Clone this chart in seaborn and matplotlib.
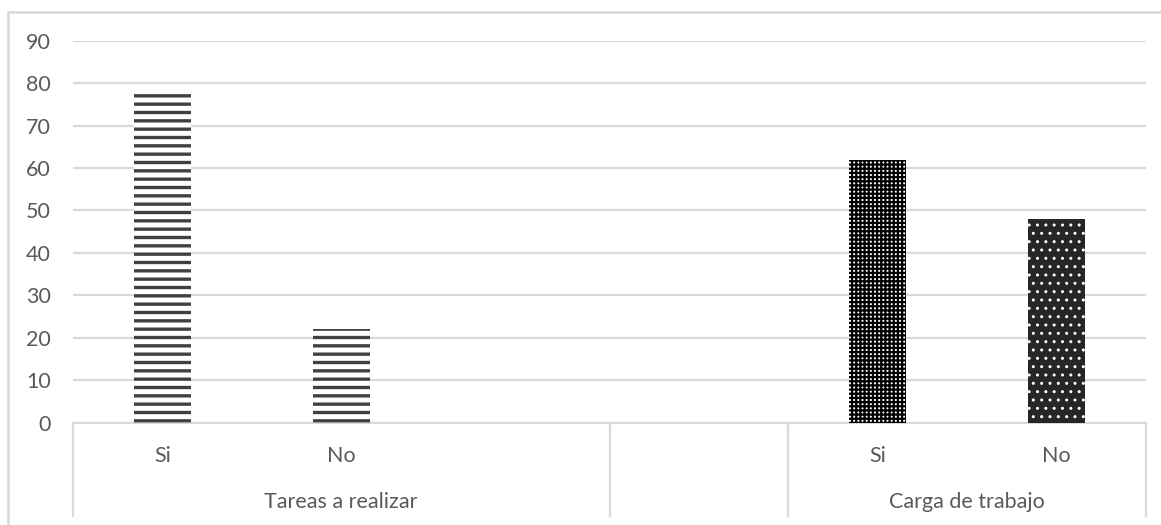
import matplotlib
matplotlib.use("Agg")
import matplotlib.pyplot as plt
from matplotlib.lines import Line2D
import seaborn as sns
import pandas as pd

# Data: two survey questions, each answered Si / No
groups = ["Tareas a realizar", "", "Carga de trabajo"]
slot_group = ["Tareas a realizar", "Tareas a realizar", "Tareas a realizar",
              "", "Carga de trabajo", "Carga de trabajo"]
slot_labels = ["Si", "No", "", "", "Si", "No"]
slot_keys = ["T_si", "T_no", "T_blank", "gap", "C_si", "C_no"]
value_keys = ["T_si", "T_no", "C_si", "C_no"]
values = [78, 22, 62, 48]
y_ticks = [0, 10, 20, 30, 40, 50, 60, 70, 80, 90]

df = pd.DataFrame({"key": value_keys, "value": values})

sns.set_theme(style="white")
plt.rcParams["font.family"] = ["Lato", "DejaVu Sans"]

W, H = 1161, 525
fig = plt.figure(figsize=(W / 100, H / 100), dpi=100)
left_px, right_px, top_px, bottom_px = 73, 1146, 40.7, 422.7
ax = fig.add_axes([left_px / W, (H - bottom_px) / H,
                   (right_px - left_px) / W, (bottom_px - top_px) / H])

sns.barplot(data=df, x="key", y="value", order=slot_keys, width=0.32,
            color="white", ax=ax, zorder=3)

# Fill patterns per bar
styles = {
    "T_si": dict(face="white", hatch="--", hcolor="#404040", hlw=2.4),
    "T_no": dict(face="white", hatch="--", hcolor="#404040", hlw=2.4),
    "C_si": dict(face="white", hatch="++++", hcolor="#000000", hlw=1.6),
    "C_no": dict(face="#262626", hatch="..", hcolor="white", hlw=1.0),
}
for p in ax.patches:
    idx = int(round(p.get_x() + p.get_width() / 2))
    st = styles[slot_keys[idx]]
    p.set_facecolor(st["face"])
    p.set_edgecolor(st["hcolor"])
    p.set_hatch(st["hatch"])
    p.set_linewidth(0)
    if hasattr(p, "set_hatch_linewidth"):
        p.set_hatch_linewidth(st["hlw"])

grid_c = "#d9d9d9"
text_c = "#595959"
fs = 15.5

ax.set_ylim(0, 90)
ax.set_xlim(-0.5, len(slot_keys) - 0.5)
ax.set_yticks(y_ticks)
ax.yaxis.grid(True, color=grid_c, linewidth=1.6, zorder=0)
ax.set_axisbelow(True)
for s in ["left", "right", "top"]:
    ax.spines[s].set_visible(False)
ax.spines["bottom"].set_color(grid_c)
ax.spines["bottom"].set_linewidth(1.6)
ax.tick_params(axis="y", length=0, pad=16, labelsize=fs, labelcolor=text_c)
ax.set_xticks([])
ax.set_xlabel("")
ax.set_ylabel("")

# Two-level category axis
xt = ax.get_xaxis_transform()
for i, lab in enumerate(slot_labels):
    if lab:
        ax.text(i, -0.087, lab, transform=xt, ha="center", va="center",
                fontsize=fs, color=text_c, clip_on=False)
for g in groups:
    idxs = [i for i, sg in enumerate(slot_group) if sg == g]
    if g:
        ax.text(sum(idxs) / len(idxs), -0.207, g, transform=xt, ha="center",
                va="center", fontsize=fs, color=text_c, clip_on=False)
bounds = [-0.5]
for i in range(1, len(slot_group)):
    if slot_group[i] != slot_group[i - 1]:
        bounds.append(i - 0.5)
bounds.append(len(slot_group) - 0.5)
for b in bounds:
    ax.add_line(Line2D([b, b], [0, -0.245], transform=xt, color=grid_c,
                       linewidth=1.6, clip_on=False))

# Chart area frame
fig.add_artist(Line2D([8 / W, 8 / W, 1.0], [0.0, 1 - 12 / H, 1 - 12 / H],
                      transform=fig.transFigure, color=grid_c, linewidth=1.8))

fig.savefig("out.png", dpi=100, facecolor="white")
